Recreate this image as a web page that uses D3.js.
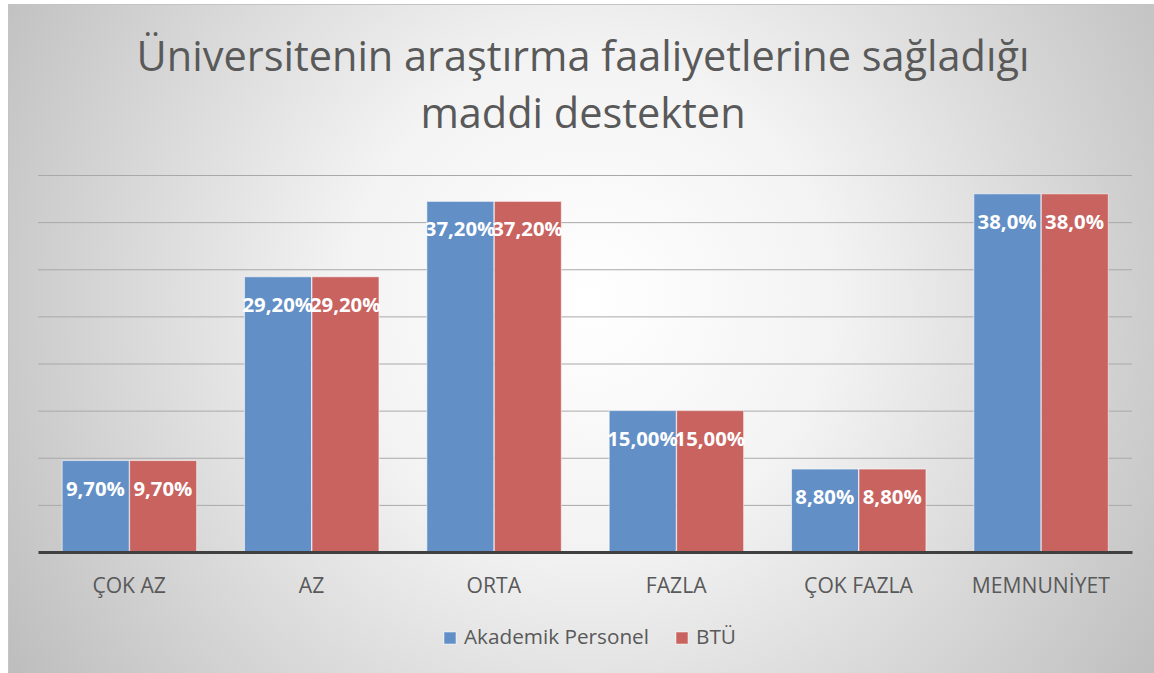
<!DOCTYPE html>
<html>
<head>
<meta charset="utf-8">
<script src="https://cdn.jsdelivr.net/npm/d3@7"></script>
<style>
  html, body { margin: 0; padding: 0; background: #fff; }
  svg { display: block; font-family: "Open Sans", sans-serif; }
</style>
</head>
<body>
<div id="chart"></div>
<script>
const categories = ["ÇOK AZ", "AZ", "ORTA", "FAZLA", "ÇOK FAZLA", "MEMNUNİYET"];
const seriesNames = ["Akademik Personel", "BTÜ"];
const akademikValues = [9.7, 29.2, 37.2, 15.0, 8.8, 38.0];
const btuValues = [9.7, 29.2, 37.2, 15.0, 8.8, 38.0];
const akademikLabels = ["9,70%", "29,20%", "37,20%", "15,00%", "8,80%", "38,0%"];
const btuLabels = ["9,70%", "29,20%", "37,20%", "15,00%", "8,80%", "38,0%"];
const gridTicks = [5, 10, 15, 20, 25, 30, 35, 40];
const titleLines = ["Üniversitenin araştırma faaliyetlerine sağladığı", "maddi destekten"];

const WIDTH = 1154, HEIGHT = 673;
const plot = { left: 38, right: 1132, top: 175, bottom: 552 };
const colors = ["#628fc6", "#c9635f"];

const series = [
  { name: seriesNames[0], values: akademikValues, labels: akademikLabels, color: colors[0] },
  { name: seriesNames[1], values: btuValues, labels: btuLabels, color: colors[1] },
];

const svg = d3.select("#chart").append("svg")
  .attr("width", WIDTH)
  .attr("height", HEIGHT)
  .attr("viewBox", [0, 0, WIDTH, HEIGHT]);

// background
const grad = svg.append("defs").append("radialGradient")
  .attr("id", "bg")
  .attr("gradientUnits", "userSpaceOnUse")
  .attr("cx", 590).attr("cy", 300).attr("r", 700);
grad.append("stop").attr("offset", "0").attr("stop-color", "#ffffff");
grad.append("stop").attr("offset", "0.35").attr("stop-color", "#f3f3f3");
grad.append("stop").attr("offset", "1").attr("stop-color", "#bcbcbc");

svg.append("rect")
  .attr("x", 8.5).attr("y", 4.5)
  .attr("width", WIDTH).attr("height", HEIGHT)
  .attr("fill", "url(#bg)")
  .attr("stroke", "#c4c4c4");

// fit a text's font size to a measured width
function fitText(sel, target) {
  const base = parseFloat(sel.attr("font-size"));
  const w = sel.node().getComputedTextLength();
  const size = base * target / w;
  sel.attr("font-size", size);
  return size;
}

// scales
const x0 = d3.scaleBand()
  .domain(categories)
  .range([plot.left, plot.right])
  .paddingInner(0.26)
  .paddingOuter(0.13);
const x1 = d3.scaleBand()
  .domain(d3.range(series.length))
  .range([0, x0.bandwidth()]);
const y = d3.scaleLinear()
  .domain([0, 40])
  .range([plot.bottom, plot.top]);

// title
const title = svg.append("text")
  .attr("text-anchor", "middle")
  .attr("fill", "#595959");
const t1 = title.append("tspan").attr("x", 583).attr("y", 71).attr("font-size", 40).text(titleLines[0]);
const titleSize = fitText(t1, 893);
title.append("tspan").attr("x", 583).attr("y", 128).attr("font-size", titleSize).text(titleLines[1]);

// gridlines
svg.append("g")
  .attr("transform", `translate(${plot.left},0)`)
  .call(d3.axisLeft(y).tickValues(gridTicks).tickSize(-(plot.right - plot.left)).tickFormat(""))
  .call(g => g.select(".domain").remove())
  .call(g => g.selectAll(".tick line").attr("stroke", "#a9a9a9").attr("stroke-width", 1));

// bars
const groups = svg.append("g")
  .selectAll("g")
  .data(categories)
  .join("g")
  .attr("transform", d => `translate(${x0(d)},0)`);

groups.selectAll("rect")
  .data((d, i) => series.map((s, j) => ({ j, v: s.values[i], color: s.color })))
  .join("rect")
  .attr("x", d => x1(d.j) + 0.5)
  .attr("y", d => y(d.v))
  .attr("width", x1.bandwidth() - 0.5)
  .attr("height", d => y(0) - y(d.v))
  .attr("fill", d => d.color)
  .attr("stroke", "rgba(255,255,255,0.55)")
  .attr("stroke-width", 1);

// baseline axis
svg.append("g")
  .attr("transform", `translate(0,${plot.bottom})`)
  .call(d3.axisBottom(x0).tickSize(0).tickPadding(0))
  .call(g => g.select(".domain").attr("stroke", "#404040").attr("stroke-width", 3))
  .call(g => g.selectAll(".tick text")
    .attr("y", 41).attr("dy", 0)
    .attr("fill", "#595959")
    .attr("font-family", "Open Sans, sans-serif")
    .attr("font-size", 17));
const memText = svg.selectAll(".tick text").filter(d => d === "MEMNUNİYET");
const catSize = fitText(memText, 138);
svg.selectAll(".tick text").attr("font-size", catSize);

// data labels
const labelSel = groups.selectAll("text.lbl")
  .data((d, i) => series.map((s, j) => ({ j, v: s.values[i], label: s.labels[i] })))
  .join("text")
  .attr("class", "lbl")
  .attr("x", d => x1(d.j) + x1.bandwidth() / 2)
  .attr("y", d => y(d.v) + 35)
  .attr("text-anchor", "middle")
  .attr("fill", "#ffffff")
  .attr("font-weight", 700)
  .attr("font-size", 18)
  .text(d => d.label);
const lblSize = fitText(labelSel.filter(d => d.label === "38,0%").filter((d, i) => i === 0), 59);
labelSel.attr("font-size", lblSize);

// legend
const legend = svg.append("g");
const legText0 = legend.append("text")
  .attr("x", 464).attr("y", 644)
  .attr("fill", "#595959").attr("font-size", 18)
  .text(series[0].name);
const legSize = fitText(legText0, 185);
legend.append("rect").attr("x", 444).attr("y", 632).attr("width", 12).attr("height", 12)
  .attr("fill", series[0].color).attr("stroke", "rgba(255,255,255,0.5)");
legend.append("rect").attr("x", 676).attr("y", 632).attr("width", 12).attr("height", 12)
  .attr("fill", series[1].color).attr("stroke", "rgba(255,255,255,0.5)");
legend.append("text")
  .attr("x", 696).attr("y", 644)
  .attr("fill", "#595959").attr("font-size", legSize)
  .text(series[1].name);
</script>
</body>
</html>
